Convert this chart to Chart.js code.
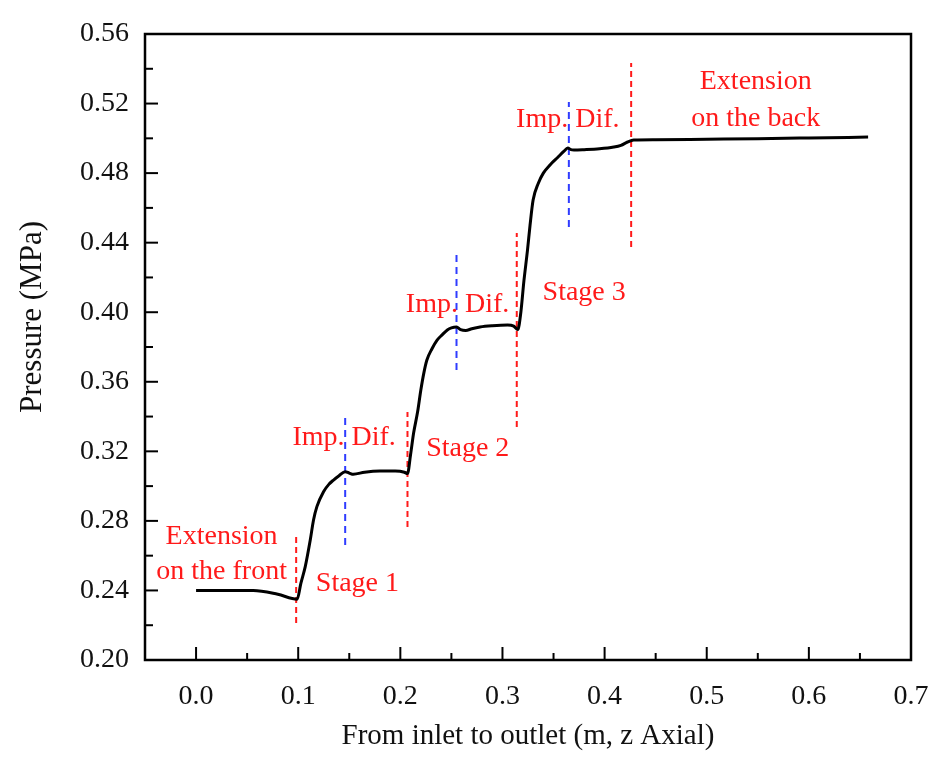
<!DOCTYPE html>
<html>
<head>
<meta charset="utf-8">
<script src="https://cdn.jsdelivr.net/npm/chart.js@4.4.1/dist/chart.umd.min.js"></script>
<style>
  html, body { margin: 0; padding: 0; background: #fff; }
  #wrap { width: 945px; height: 768px; position: relative; }
</style>
</head>
<body>
<div id="wrap"><canvas id="pressureChart"></canvas></div>
<script>
// axial position (m) and static pressure (MPa)
const axialPos = [0, 0.02, 0.04, 0.056, 0.08, 0.099, 0.1026, 0.1069, 0.1118, 0.115,
    0.1183, 0.1248, 0.130, 0.1346, 0.140, 0.146, 0.150, 0.154, 0.165, 0.180,
    0.195, 0.204, 0.207, 0.210, 0.213, 0.217, 0.220, 0.223, 0.226, 0.231,
    0.236, 0.241, 0.246, 0.250, 0.255, 0.259, 0.264, 0.270, 0.278, 0.290,
    0.305, 0.311, 0.315, 0.318, 0.321, 0.3245, 0.327, 0.330, 0.335, 0.340,
    0.347, 0.354, 0.360, 0.364, 0.367, 0.370, 0.380, 0.395, 0.409, 0.416,
    0.4225, 0.4285, 0.45, 0.50, 0.55, 0.60, 0.658];
const pressure = [0.240, 0.240, 0.240, 0.240, 0.2378, 0.2350, 0.2441, 0.2537, 0.2690, 0.2805,
    0.2882, 0.2968, 0.3010, 0.3035, 0.306, 0.3083, 0.3075, 0.3068, 0.308, 0.3087,
    0.3087, 0.3080, 0.3072, 0.318, 0.3305, 0.343, 0.355, 0.365, 0.3725, 0.379,
    0.384, 0.387, 0.3898, 0.391, 0.3915, 0.3900, 0.3895, 0.3905, 0.3915, 0.3922,
    0.3926, 0.392, 0.390, 0.400, 0.418, 0.4357, 0.450, 0.4645, 0.474, 0.480,
    0.485, 0.489, 0.4925, 0.4944, 0.4935, 0.4933, 0.4935, 0.494, 0.495, 0.496,
    0.4979, 0.499, 0.4992, 0.4995, 0.4998, 0.5002, 0.5007];

// dashed section boundaries (red = stage limits, blue = impeller / diffuser)
const markerX = [0.098, 0.146, 0.207, 0.255, 0.314, 0.365, 0.426];
const markerLow = [0.2213, 0.2661, 0.2765, 0.3668, 0.334, 0.449, 0.4375];
const markerHigh = [0.2730, 0.3392, 0.3426, 0.4329, 0.4455, 0.5209, 0.5433];
const markerKind = ["stage", "split", "stage", "split", "stage", "split", "stage"];

// section notes
const noteText = ["Extension", "on the front", "Stage 1", "Imp. Dif.", "Stage 2",
    "Imp. Dif.", "Stage 3", "Imp. Dif.", "Extension", "on the back"];
const noteX = [0.025, 0.025, 0.158, 0.145, 0.266, 0.256, 0.380, 0.364, 0.548, 0.548];
const noteY = [0.2707, 0.2506, 0.2437, 0.3277, 0.3213, 0.4041, 0.411, 0.5105, 0.5324, 0.5111];

const xMin = -0.05, xMax = 0.7, yMin = 0.20, yMax = 0.56;

const FONT = '"Liberation Serif", "Times New Roman", serif';
const RED = "#ff1a1a";
const BLUE = "#2f3cff";

document.addEventListener("DOMContentLoaded", function () {
    const ctx = document.getElementById("pressureChart").getContext("2d");

    const curve = axialPos.map((x, i) => ({ x: x, y: pressure[i] }));

    const markerSets = markerX.map((x, i) => ({
        data: [{ x: x, y: markerLow[i] }, { x: x, y: markerHigh[i] }],
        borderColor: markerKind[i] === "stage" ? RED : BLUE,
        borderWidth: 2,
        borderDash: markerKind[i] === "stage" ? [6, 4] : [7, 5],
        pointRadius: 0,
        fill: false
    }));

    // frame, inward ticks, notes and axis titles
    const decorations = {
        id: "decorations",
        afterDraw(chart) {
            const c = chart.ctx;
            const area = chart.chartArea;
            const sx = chart.scales.x;
            const sy = chart.scales.y;

            c.save();
            c.strokeStyle = "#000";
            c.lineWidth = 2.5;
            c.strokeRect(area.left, area.top, area.right - area.left, area.bottom - area.top);

            c.lineWidth = 2;
            for (let k = 0; k <= 15; k++) {
                const v = xMin + k * 0.05;
                const px = sx.getPixelForValue(v);
                const len = k % 2 === 1 ? 13 : 7;
                c.beginPath();
                c.moveTo(px, area.bottom);
                c.lineTo(px, area.bottom - len);
                c.stroke();
            }
            for (let k = 0; k <= 18; k++) {
                const v = yMin + k * 0.02;
                const py = sy.getPixelForValue(v);
                const len = k % 2 === 0 ? 13 : 8;
                c.beginPath();
                c.moveTo(area.left, py);
                c.lineTo(area.left + len, py);
                c.stroke();
            }

            c.fillStyle = RED;
            c.font = "28px " + FONT;
            c.textAlign = "center";
            c.textBaseline = "middle";
            noteText.forEach((t, i) => {
                c.fillText(t, sx.getPixelForValue(noteX[i]), sy.getPixelForValue(noteY[i]));
            });

            c.fillStyle = "#111";
            c.font = "29px " + FONT;
            c.fillText("From inlet to outlet (m, z Axial)", 528, 736);
            c.font = "31px " + FONT;
            c.translate(33, 317);
            c.rotate(-Math.PI / 2);
            c.fillText("Pressure (MPa)", 0, 0);
            c.restore();
        }
    };

    new Chart(ctx, {
        type: "line",
        data: {
            datasets: [
                {
                    data: curve,
                    borderColor: "#000",
                    borderWidth: 3,
                    pointRadius: 0,
                    fill: false,
                    cubicInterpolationMode: "monotone"
                },
                ...markerSets
            ]
        },
        options: {
            responsive: true,
            maintainAspectRatio: false,
            animation: false,
            layout: { padding: { top: 34, right: 34, left: 0, bottom: 0 } },
            plugins: {
                legend: { display: false },
                tooltip: { enabled: false }
            },
            scales: {
                x: {
                    type: "linear",
                    min: xMin,
                    max: xMax,
                    afterFit: (s) => { s.height = 108; s.paddingRight = 0; s.paddingLeft = 0; },
                    grid: { display: false, drawTicks: false },
                    border: { display: false },
                    ticks: {
                        stepSize: 0.1,
                        includeBounds: false,
                        padding: 20,
                        color: "#111",
                        font: { family: FONT, size: 28 },
                        callback: (v) => v.toFixed(1)
                    }
                },
                y: {
                    min: yMin,
                    max: yMax,
                    afterFit: (s) => { s.width = 145; s.paddingTop = 0; s.paddingBottom = 0; },
                    grid: { display: false, drawTicks: false },
                    border: { display: false },
                    ticks: {
                        stepSize: 0.04,
                        padding: 16,
                        color: "#111",
                        font: { family: FONT, size: 28 },
                        callback: (v) => v.toFixed(2)
                    }
                }
            }
        },
        plugins: [decorations]
    });
});
</script>
</body>
</html>
